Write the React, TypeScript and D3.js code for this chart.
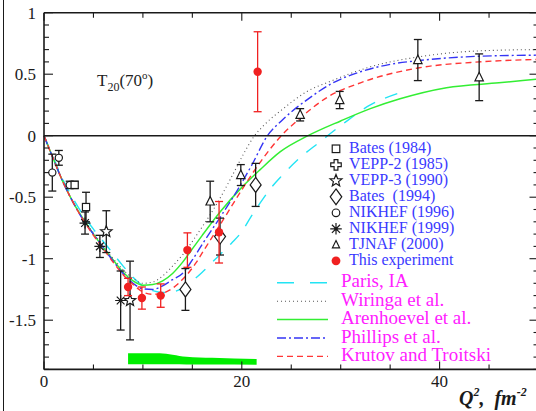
import React from 'react';
import * as d3 from 'd3';

const W = 536;
const H = 411;

// ---------- data ----------
const xTicksMajor = [0, 20, 40];
const yTicksMajor = [1, 0.5, 0, -0.5, -1, -1.5];
const yTickLabels = ['1', '0.5', '0', '-0.5', '-1', '-1.5'];

// This experiment
const expQ = [8.5, 9.9, 11.8, 14.5, 17.7, 21.6];
const expT = [-1.23, -1.32, -1.3, -0.93, -0.785, 0.52];
const expE = [0.07, 0.09, 0.095, 0.14, 0.25, 0.325];

// Bates (1984)
const bates84Q = [3.1, 4.25];
const bates84T = [-0.4, -0.58];
const bates84E = [0.03, 0.12];

// VEPP-3 (1990)
const vepp3Q = [6.3, 8.7];
const vepp3T = [-0.78, -1.34];
const vepp3E = [0.17, 0.32];

// Bates (1994)
const bates94Q = [14.3, 17.8, 21.4];
const bates94T = [-1.25, -0.82, -0.4];
const bates94E = [0.17, 0.15, 0.175];

// NIKHEF (1996)
const nik96Q = [0.84, 1.5, 2.6];
const nik96T = [-0.3, -0.18, -0.4];
const nik96E = [0.15, 0.06, 0.03];

// NIKHEF (1999)
const nik99Q = [4.15, 5.65, 7.75];
const nik99T = [-0.71, -0.9, -1.34];
const nik99E = [0.09, 0.09, 0.24];

// TJNAF (2000)
const tjQ = [16.8, 19.9, 25.9, 29.9, 37.8, 44.0];
const tjT = [-0.535, -0.32, 0.17, 0.29, 0.615, 0.475];
const tjE = [0.165, 0.085, 0.05, 0.07, 0.167, 0.19];

// theory curves
const parisQ = [0, 1, 2, 3, 4, 5, 6, 7, 8, 9, 10, 11, 12, 13, 14, 15, 16, 17, 18, 19, 20, 21, 22, 23, 24, 25.6, 27.9, 30.3, 33, 36];
const parisT = [0, -0.19, -0.37, -0.52, -0.65, -0.76, -0.86, -0.96, -1.06, -1.15, -1.22, -1.26, -1.275, -1.27, -1.24, -1.18, -1.11, -1.03, -0.95, -0.87, -0.78, -0.65, -0.53, -0.42, -0.33, -0.2, -0.05, 0.1, 0.25, 0.35];

const wirQ = [0, 1, 2, 3, 4, 5, 6, 7, 8, 9, 10, 11, 12, 13, 14.1, 15.5, 17.5, 19, 20.3, 21.2, 22.3, 24.2, 26.6, 28.9, 33, 37.8, 42, 46, 50];
const wirT = [0, -0.2, -0.39, -0.55, -0.68, -0.79, -0.9, -1.0, -1.09, -1.16, -1.2, -1.19, -1.14, -1.06, -0.96, -0.8, -0.55, -0.33, -0.13, -0.01, 0.09, 0.22, 0.36, 0.44, 0.56, 0.64, 0.68, 0.695, 0.7];

const arenQ = [0, 1, 2, 3, 4, 5, 6, 7, 8, 9, 10, 11, 12, 13, 14, 15, 16, 17.8, 20, 21.8, 23.9, 26.7, 30, 33, 36, 40.7, 46, 50];
const arenT = [0, -0.2, -0.39, -0.55, -0.68, -0.8, -0.91, -1.01, -1.11, -1.18, -1.215, -1.21, -1.18, -1.12, -1.03, -0.92, -0.81, -0.62, -0.42, -0.28, -0.13, 0.0, 0.12, 0.22, 0.3, 0.39, 0.43, 0.46];

const phiQ = [0, 1, 2, 3, 4, 5, 6, 7, 8, 9, 10, 11, 12, 13, 14, 15, 16.1, 18, 19.5, 21, 22.6, 24, 26.9, 29, 32, 35, 37.8, 43.7, 50];
const phiT = [0, -0.2, -0.39, -0.55, -0.69, -0.8, -0.91, -1.02, -1.12, -1.2, -1.245, -1.25, -1.22, -1.17, -1.12, -1.01, -0.87, -0.64, -0.45, -0.24, 0.0, 0.12, 0.31, 0.42, 0.52, 0.58, 0.61, 0.645, 0.655];

const kruQ = [0, 1, 2, 3, 4, 5, 6, 7, 8, 9, 10, 11, 12, 13, 14, 15.4, 16.1, 18.3, 20, 22, 24, 26, 28.6, 32, 37.8, 44, 50];
const kruT = [0, -0.2, -0.39, -0.55, -0.69, -0.81, -0.92, -1.03, -1.13, -1.21, -1.27, -1.29, -1.28, -1.24, -1.17, -1.03, -0.94, -0.66, -0.44, -0.2, 0.0, 0.15, 0.31, 0.43, 0.55, 0.6, 0.62];

// systematic error band
const bandQ = [8.5, 10, 11.7, 13, 14.4, 17, 21.5];
const bandTop = [-1.768, -1.768, -1.768, -1.78, -1.797, -1.806, -1.815];
const bandBottom = [-1.858, -1.858, -1.858, -1.859, -1.86, -1.861, -1.862];

const dataLegend = ['Bates (1984)', 'VEPP-2 (1985)', 'VEPP-3 (1990)', 'Bates  (1994)', 'NIKHEF (1996)', 'NIKHEF (1999)', 'TJNAF (2000)', 'This experiment'];
const theoryLegend = ['Paris, IA', 'Wiringa et al.', 'Arenhoevel et al.', 'Phillips et al.', 'Krutov and Troitski'];

// ---------- layout ----------
const x = d3.scaleLinear().domain([0, 50]).range([44, 538.5]);
const y = d3.scaleLinear().domain([-1.9, 1]).range([369.4, 12.7]);

const FONT = "'Liberation Serif', 'Times New Roman', Times, serif";
const BLACK = '#1a1a1a';
const RED = '#f02020';

type Shape = 'square' | 'plus' | 'star' | 'diamond' | 'circle' | 'asterisk' | 'triangle' | 'dot';

function Marker({ shape, cx, cy, s = 1 }: { shape: Shape; cx: number; cy: number; s?: number }) {
  const st = { fill: 'white', stroke: BLACK, strokeWidth: 1.2 };
  switch (shape) {
    case 'square':
      return <rect x={cx - 3.6 * s} y={cy - 3.6 * s} width={7.2 * s} height={7.2 * s} {...st} />;
    case 'plus': {
      const a = 1.8 * s, b = 5 * s;
      const p = `M${cx - a},${cy - b}H${cx + a}V${cy - a}H${cx + b}V${cy + a}H${cx + a}V${cy + b}H${cx - a}V${cy + a}H${cx - b}V${cy - a}H${cx - a}Z`;
      return <path d={p} {...st} />;
    }
    case 'star': {
      const pts: string[] = [];
      for (let i = 0; i < 10; i++) {
        const r = (i % 2 === 0 ? 6 : 2.6) * s;
        const ang = -Math.PI / 2 + (i * Math.PI) / 5;
        pts.push(`${cx + r * Math.cos(ang)},${cy + r * Math.sin(ang)}`);
      }
      return <polygon points={pts.join(' ')} {...st} />;
    }
    case 'diamond':
      return <polygon points={`${cx},${cy - 7.5 * s} ${cx + 5.5 * s},${cy} ${cx},${cy + 7.5 * s} ${cx - 5.5 * s},${cy}`} {...st} />;
    case 'circle':
      return <circle cx={cx} cy={cy} r={3.6 * s} {...st} />;
    case 'asterisk': {
      const r = 5.5 * s;
      const lines = [0, 45, 90, 135].map((deg) => {
        const a = (deg * Math.PI) / 180;
        return `M${cx - r * Math.cos(a)},${cy - r * Math.sin(a)}L${cx + r * Math.cos(a)},${cy + r * Math.sin(a)}`;
      });
      return (
        <g>
          <path d={lines.join('')} stroke={BLACK} strokeWidth={1.2} fill="none" />
          <circle cx={cx} cy={cy} r={1.6} fill={BLACK} />
        </g>
      );
    }
    case 'triangle':
      return <polygon points={`${cx},${cy - 5 * s} ${cx + 4.2 * s},${cy + 3.5 * s} ${cx - 4.2 * s},${cy + 3.5 * s}`} {...st} />;
    case 'dot':
      return <circle cx={cx} cy={cy} r={4.2 * s} fill={RED} />;
  }
  return null;
}

function Series({ q, t, e, shape, color }: { q: number[]; t: number[]; e: number[]; shape: Shape; color: string }) {
  return (
    <g>
      {q.map((qq, i) => {
        const cx = x(qq);
        const y1 = y(t[i] + e[i]);
        const y2 = y(t[i] - e[i]);
        return (
          <g key={i}>
            <line x1={cx} x2={cx} y1={y1} y2={y2} stroke={color} strokeWidth={1.3} />
            <line x1={cx - 4} x2={cx + 4} y1={y1} y2={y1} stroke={color} strokeWidth={1.3} />
            <line x1={cx - 4} x2={cx + 4} y1={y2} y2={y2} stroke={color} strokeWidth={1.3} />
            <Marker shape={shape} cx={cx} cy={y(t[i])} />
          </g>
        );
      })}
    </g>
  );
}

const lineGen = (q: number[], t: number[]) =>
  d3
    .line<number>()
    .x((_, i) => x(q[i]))
    .y((v) => y(v))
    .curve(d3.curveMonotoneX)(t) as string;

const theoryStyles = [
  { q: parisQ, t: parisT, color: '#22e4f4', dash: '13,11', w: 1.4 },
  { q: wirQ, t: wirT, color: '#555555', dash: '1,3', w: 1.1 },
  { q: arenQ, t: arenT, color: '#33ee33', dash: undefined, w: 1.5 },
  { q: phiQ, t: phiT, color: '#3535f5', dash: '9,3,2,3', w: 1.4 },
  { q: kruQ, t: kruT, color: '#ff3535', dash: '6,4', w: 1.4 },
];

export default function App() {
  const xMinor = d3.range(0, 51, 5);
  const yMinor = d3.range(-19, 11, 1).map((v) => v / 10);
  const bandArea = d3
    .area<number>()
    .x((_, i) => x(bandQ[i]))
    .y0((_, i) => y(bandBottom[i]))
    .y1((v) => y(v))
    .curve(d3.curveMonotoneX)(bandTop) as string;

  const left = x(0);
  const right = x(50);
  const top = y(1);
  const bottom = y(-1.9);
  const dataShapes: Shape[] = ['square', 'plus', 'star', 'diamond', 'circle', 'asterisk', 'triangle', 'dot'];

  return (
    <div>
      <style>{`body{margin:0;background:#fff} svg text{font-family:${FONT};}`}</style>
      <svg width={W} height={H} style={{ display: 'block', fontFamily: FONT }}>
        <rect width={W} height={H} fill="white" />
        {/* outer left border */}
        <line x1={3.5} x2={3.5} y1={0} y2={H} stroke={BLACK} strokeWidth={1} />

        {/* band */}
        <path d={bandArea} fill="#00ee00" />

        {/* theory curves */}
        {theoryStyles.map((s, i) => (
          <path key={i} d={lineGen(s.q, s.t)} fill="none" stroke={s.color} strokeWidth={s.w} strokeDasharray={s.dash} />
        ))}

        {/* data */}
        <Series q={nik96Q} t={nik96T} e={nik96E} shape="circle" color={BLACK} />
        <Series q={bates84Q} t={bates84T} e={bates84E} shape="square" color={BLACK} />
        <Series q={nik99Q} t={nik99T} e={nik99E} shape="asterisk" color={BLACK} />
        <Series q={vepp3Q} t={vepp3T} e={vepp3E} shape="star" color={BLACK} />
        <Series q={bates94Q} t={bates94T} e={bates94E} shape="diamond" color={BLACK} />
        <Series q={tjQ} t={tjT} e={tjE} shape="triangle" color={BLACK} />
        <Series q={expQ} t={expT} e={expE} shape="dot" color={RED} />

        {/* frame */}
        <g stroke={BLACK} strokeWidth={1.6} fill="none">
          <line x1={left} x2={right} y1={top} y2={top} />
          <line x1={left} x2={right} y1={bottom} y2={bottom} />
          <line x1={left} x2={left} y1={top} y2={bottom} />
          <line x1={right} x2={right} y1={top} y2={bottom} />
          <line x1={left} x2={right} y1={y(0)} y2={y(0)} />
        </g>
        <g stroke={BLACK} strokeWidth={1.1}>
          {xMinor.map((v) => {
            const L = v % 20 === 0 ? 8 : 5;
            return (
              <g key={v}>
                <line x1={x(v)} x2={x(v)} y1={bottom} y2={bottom - L} />
                <line x1={x(v)} x2={x(v)} y1={top} y2={top + L} />
              </g>
            );
          })}
          {yMinor.map((v) => {
            const L = Math.abs(Math.round(v * 10)) % 5 === 0 ? 9 : 5;
            return (
              <g key={v}>
                <line x1={left} x2={left + L} y1={y(v)} y2={y(v)} />
                <line x1={right} x2={right - L} y1={y(v)} y2={y(v)} />
              </g>
            );
          })}
        </g>

        {/* tick labels */}
        <g fontSize={17} fill={BLACK}>
          {yTicksMajor.map((v, i) => (
            <text key={v} x={36} y={y(v) + 6} textAnchor="end">
              {yTickLabels[i]}
            </text>
          ))}
          {xTicksMajor.map((v) => (
            <text key={v} x={x(v)} y={387} textAnchor="middle">
              {v}
            </text>
          ))}
        </g>

        {/* T20 label */}
        <text x={97} y={86} fontSize={17} fill="#222">
          T<tspan fontSize={12} dy={5}>20</tspan>
          <tspan dy={-5}>(70</tspan>
          <tspan fontSize={11} dy={-7}>o</tspan>
          <tspan dy={7}>)</tspan>
        </text>

        {/* axis title */}
        <text x={459} y={405} fontSize={20} fontWeight="bold" fontStyle="italic" fill={BLACK} style={{ whiteSpace: 'pre' }}>
          Q<tspan fontSize={12} dy={-9}>2</tspan>
          <tspan dy={9}>,  fm</tspan>
          <tspan fontSize={12} dy={-9}>-2</tspan>
        </text>

        {/* data legend */}
        {dataLegend.map((lab, i) => {
          const yy = 153.3 + i * 16;
          return (
            <g key={lab}>
              <Marker shape={dataShapes[i]} cx={336} cy={yy - 4.5} s={i === 6 ? 0.85 : 1.05} />
              <text x={349} y={yy} fontSize={16} fill="#3a3aff" style={{ whiteSpace: 'pre' }}>
                {lab}
              </text>
            </g>
          );
        })}

        {/* theory legend */}
        {theoryLegend.map((lab, i) => {
          const yy = 287.3 + i * 18.4;
          const s = theoryStyles[i];
          return (
            <g key={lab}>
              <line x1={277} x2={328} y1={yy - 4.5} y2={yy - 4.5} stroke={s.color} strokeWidth={s.w} strokeDasharray={i === 0 ? '17,16' : s.dash} />
              <text x={341} y={yy} fontSize={19} fill="#ff20ff">
                {lab}
              </text>
            </g>
          );
        })}
      </svg>
    </div>
  );
}
